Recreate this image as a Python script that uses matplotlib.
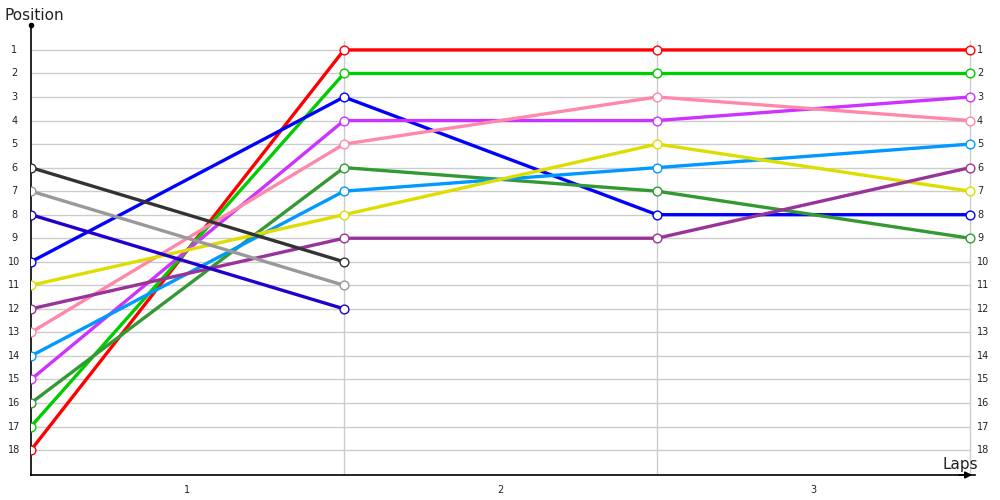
import matplotlib
matplotlib.use("Agg")
import matplotlib.pyplot as plt
from matplotlib.transforms import blended_transform_factory

# ---------------- DATA ----------------
laps = ["1", "2", "3"]
positions = list(range(1, 19))

# position at start, after lap 1, 2, 3
red = [18, 1, 1, 1]
green = [17, 2, 2, 2]
blue = [10, 3, 8, 8]
magenta = [15, 4, 4, 3]
pink = [13, 5, 3, 4]
dark_green = [16, 6, 7, 9]
light_blue = [14, 7, 6, 5]
yellow = [11, 8, 5, 7]
purple = [12, 9, 9, 6]
dark_gray = [6, 10]
gray = [7, 11]
navy = [8, 12]

series = [
    (red, "#ff0000"),
    (green, "#00cc00"),
    (blue, "#0000ff"),
    (magenta, "#cc33ff"),
    (pink, "#ff88aa"),
    (dark_green, "#339933"),
    (light_blue, "#0099ff"),
    (yellow, "#dddd00"),
    (purple, "#993399"),
    (dark_gray, "#333333"),
    (gray, "#999999"),
    (navy, "#2200cc"),
]
# --------------------------------------

fig = plt.figure(figsize=(10, 5), dpi=100)
ax = fig.add_axes([0.031, 0.05, 0.944, 0.90])

x_end = 3 * (975 - 31) / (970 - 31)
ax.set_xlim(0, x_end)
ax.set_ylim(19.06, -0.06)

# grid
for p in positions:
    ax.plot([0, 3], [p, p], color="#cccccc", lw=1, zorder=1)
for x in range(1, 4):
    ax.plot([x, x], [0.6, 19.06], color="#cccccc", lw=1, zorder=1)

for vals, col in series:
    xs = list(range(len(vals)))
    ax.plot(xs, vals, color=col, lw=2.4, zorder=3, solid_capstyle="round")
    ax.plot(xs, vals, ls="none", marker="o", ms=6.3, mfc="white",
            mec=col, mew=1.0, zorder=4)

# axis tick labels
trans_l = blended_transform_factory(fig.transFigure, ax.transData)
for p in positions:
    ax.text(0.0145, p, str(p), transform=trans_l, ha="center", va="center",
            fontsize=7, color="#222222")
    ax.text(0.977, p, str(p), transform=trans_l, ha="left", va="center",
            fontsize=7, color="#222222")

trans_b = blended_transform_factory(ax.transData, fig.transFigure)
for i, lab in enumerate(laps):
    ax.text(i + 0.5, 0.02, lab, transform=trans_b, ha="center", va="center",
            fontsize=7, color="#222222")

fig.text(0.004, 0.968, "Position", fontsize=11, color="#222222",
         ha="left", va="center")
fig.text(0.943, 0.07, "Laps", fontsize=11, color="#222222",
         ha="left", va="center")

ax.set_xticks([])
ax.set_yticks([])
for s in ["top", "right"]:
    ax.spines[s].set_visible(False)
ax.spines["left"].set_linewidth(1.2)
ax.spines["bottom"].set_linewidth(1.2)

# axis decorations: dot on top of y axis, arrow at end of x axis
ax.plot([0], [-0.06], marker="o", ms=3, color="black", clip_on=False, zorder=5)
ax.annotate("", xy=(1.0, 0), xytext=(0.98, 0), xycoords="axes fraction",
            arrowprops=dict(arrowstyle="-|>", color="black", lw=1.2,
                            mutation_scale=10))

fig.savefig("out.png", dpi=100)
